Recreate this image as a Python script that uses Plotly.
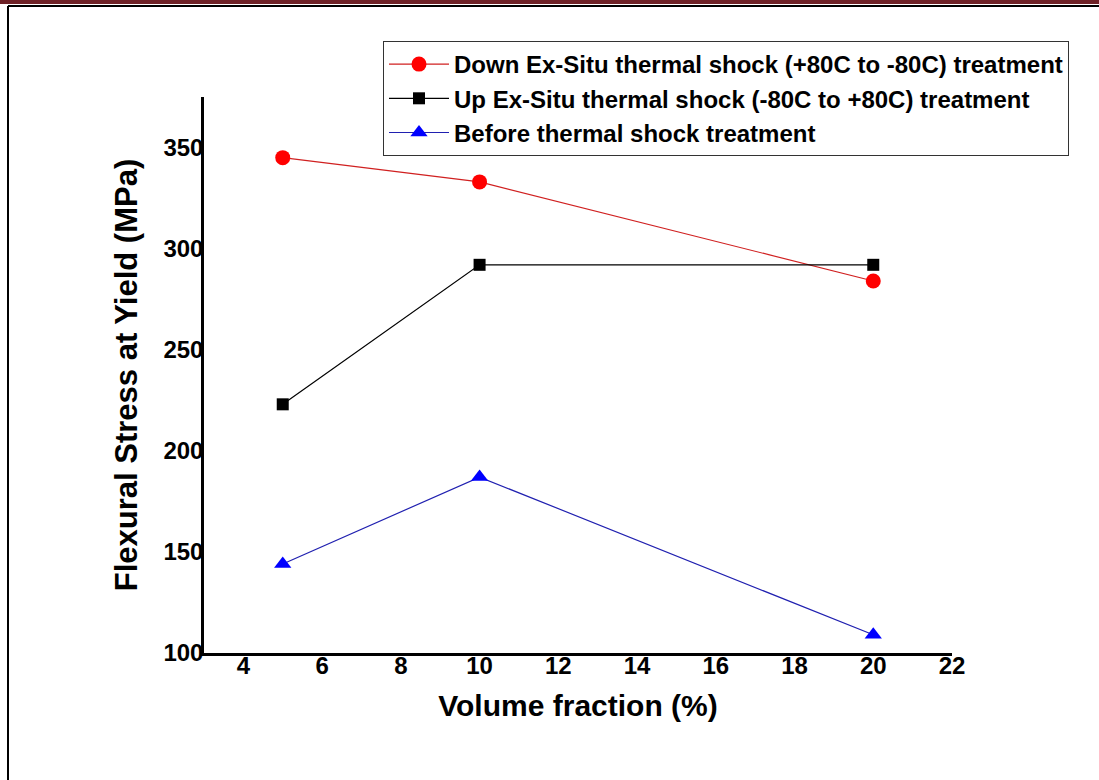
import plotly.graph_objects as go

# Volume fraction (%) of the filler
volume_fraction = [5, 10, 20]

# Flexural stress at yield (MPa) for each treatment
down_ex_situ = [345, 333, 284]
up_ex_situ = [223, 292, 292]
before_shock = [144, 187, 109]

series_names = [
    "Down Ex-Situ thermal shock (+80C to -80C) treatment",
    "Up Ex-Situ thermal shock (-80C to +80C) treatment",
    "Before thermal shock treatment",
]

x_ticks = [4, 6, 8, 10, 12, 14, 16, 18, 20, 22]
y_ticks = [100, 150, 200, 250, 300, 350]

FONT = "Arial, 'Liberation Sans', sans-serif"

W, H = 1099, 780
L, R, T, B = 204, 147, 97, 127
PW, PH = W - L - R, H - T - B


def px_x(p):
    return (p - L) / PW


def px_y(p):
    return (H - B - p) / PH


fig = go.Figure()
styles = [
    ("#ff0000", "#d02020", "circle", 15),
    ("#000000", "#000000", "square", 12),
    ("#0000ff", "#2020b0", "triangle-up", 15),
]
for name, ys, (mc, lc, sym, size) in zip(series_names, [down_ex_situ, up_ex_situ, before_shock], styles):
    fig.add_trace(go.Scatter(
        x=volume_fraction, y=ys, name=name, mode="lines+markers",
        line=dict(color=lc, width=1.2),
        marker=dict(color=mc, symbol=sym, size=size),
    ))

# Page frame: dark red band, thin rule beneath it and a left border
shapes = [
    dict(type="rect", xref="paper", yref="paper", x0=px_x(0), x1=px_x(W), y0=px_y(0), y1=px_y(4),
         fillcolor="#6e2126", line=dict(width=0), layer="above"),
    dict(type="line", xref="paper", yref="paper", x0=px_x(8), x1=px_x(W), y0=px_y(6), y1=px_y(6),
         line=dict(color="black", width=2)),
    dict(type="line", xref="paper", yref="paper", x0=px_x(8), x1=px_x(8), y0=px_y(6), y1=px_y(H),
         line=dict(color="black", width=2)),
]

fig.update_layout(
    width=W, height=H,
    margin=dict(l=L, r=R, t=T, b=B),
    paper_bgcolor="white", plot_bgcolor="white",
    font=dict(family=FONT, color="black"),
    shapes=shapes,
    showlegend=True,
    legend=dict(
        x=px_x(383), y=px_y(41), xanchor="left", yanchor="top",
        bgcolor="white", bordercolor="#333333", borderwidth=1,
        font=dict(family=FONT, size=24, color="black", weight="bold"),
        tracegroupgap=0, itemwidth=60,
    ),
    xaxis=dict(
        range=[3, 22], tickvals=x_ticks, showgrid=False, zeroline=False,
        showline=True, linecolor="black", linewidth=2.5, ticks="",
        tickfont=dict(size=24, weight="bold"), ticklabelstandoff=-11,
        title=dict(text="Volume fraction (%)", font=dict(size=30, weight="bold"), standoff=18),
    ),
    yaxis=dict(
        range=[100, 375], tickvals=y_ticks, showgrid=False, zeroline=False,
        showline=True, linecolor="black", linewidth=2.5, ticks="",
        tickfont=dict(size=24, weight="bold"), ticklabelstandoff=-7,
        title=dict(text="Flexural Stress at Yield (MPa)", font=dict(size=31, weight="bold"), standoff=17),
    ),
)

fig.write_html("out.html")
